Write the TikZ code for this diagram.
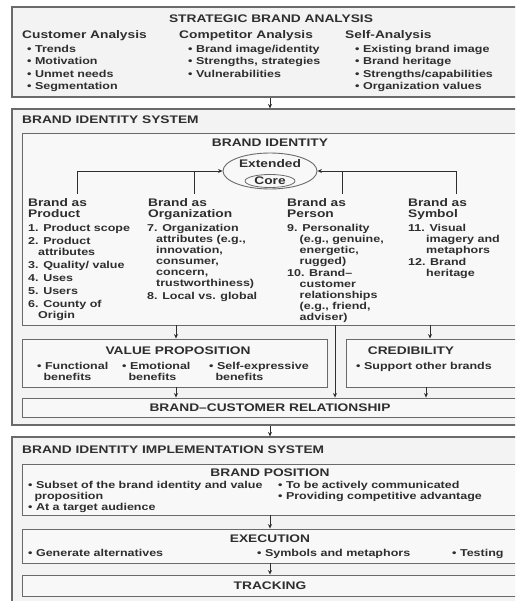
\documentclass[tikz,border=0pt]{standalone}
\usepackage{fontspec}
\setmainfont[FakeStretch=1.25]{Liberation Sans}
\usetikzlibrary{arrows.meta,shapes.geometric,fit}
\definecolor{ink}{HTML}{2E2E2E}
\definecolor{rule}{HTML}{6A6A6A}
\definecolor{panel}{HTML}{F3F3F3}
\definecolor{panelin}{HTML}{F8F8F8}

\tikzset{
  hd/.style={font=\fontsize{11}{11.5}\selectfont\bfseries, text=ink, inner sep=0pt, align=left},
  bd/.style={font=\fontsize{10}{#1}\selectfont\bfseries, text=ink, inner sep=0pt, align=left},
  bd/.default=11,
  outerbox/.style={draw=rule, line width=1.1pt, fill=panel, inner sep=0pt},
  innerbox/.style={draw=rule, line width=0.9pt, fill=panelin, inner sep=0pt},
  flow/.style={draw=ink, line width=0.8pt, -{Stealth[length=4.5pt,width=4pt]}},
  link/.style={draw=ink, line width=0.8pt},
}

\begin{document}
\begin{tikzpicture}[x=1pt,y=-1pt]
\useasboundingbox (0,0) rectangle (515,601);
\clip (0,0) rectangle (515,601);

% ---------- Strategic brand analysis ----------
\node[outerbox, fit={(12,7) (520,97)}] (sba) {};
\node[hd] (sbaT) at (271,18.5) {STRATEGIC BRAND ANALYSIS};
\node[hd, anchor=base west] (custH) at (22,39) {Customer Analysis};
\node[hd, anchor=base west] (compH) at (179,39) {Competitor Analysis};
\node[hd, anchor=base west] (selfH) at (345,39) {Self-Analysis};
\node[bd=12.5, anchor=north west] (custL) at (27,44.9)
  {• Trends\\• Motivation\\• Unmet needs\\• Segmentation};
\node[bd=12.5, anchor=north west] (compL) at (188,44.9)
  {• Brand image/identity\\• Strengths, strategies\\• Vulnerabilities};
\node[bd=12.5, anchor=north west] (selfL) at (355,44.9)
  {• Existing brand image\\• Brand heritage\\• Strengths/capabilities\\• Organization values};

% ---------- Brand identity system ----------
\node[outerbox, fit={(12,109) (520,425)}] (bis) {};
\node[hd, anchor=west] (bisT) at (22,120) {BRAND IDENTITY SYSTEM};

\node[innerbox, fit={(22,133) (520,325)}] (bi) {};
\node[hd] (biT) at (270,143) {BRAND IDENTITY};
\node[draw=rule, line width=0.9pt, ellipse, minimum width=94pt, minimum height=36pt, inner sep=0pt] (ext) at (270,171) {};
\node[hd] (extT) at (270,164) {Extended};
\node[hd, draw=rule, line width=0.8pt, ellipse, minimum width=50pt, minimum height=13pt, inner sep=0pt] (core) at (270,181) {Core};

\node[hd, anchor=north west] (prodH) at (28,198) {Brand as\\Product};
\node[hd, anchor=north west] (orgH) at (148,198) {Brand as\\Organization};
\node[hd, anchor=north west] (persH) at (287,198) {Brand as\\Person};
\node[hd, anchor=north west] (symH) at (408,198) {Brand as\\Symbol};

\coordinate (prodC) at (77,194);
\coordinate (orgC) at (194,194);
\coordinate (persC) at (342,194);
\coordinate (symC) at (456,194);
\draw[flow] (prodC) |- (ext.west);
\draw[link] (orgC) -- (orgC |- ext.west);
\draw[flow] (symC) |- (ext.east);
\draw[link] (persC) -- (persC |- ext.east);

\node[bd, anchor=north west] (prodL) at (28,224.4)
  {1. Product scope\\[2pt]2. Product\\\hspace*{10pt}attributes\\[2pt]3. Quality/ value\\[2pt]4. Uses\\[2pt]5. Users\\[2pt]6. County of\\\hspace*{10pt}Origin};
\node[bd, anchor=north west] (orgL) at (147,224.4)
  {7. Organization\\\hspace*{9pt}attributes (e.g.,\\\hspace*{9pt}innovation,\\\hspace*{9pt}consumer,\\\hspace*{9pt}concern,\\\hspace*{9pt}trustworthiness)\\[2pt]8. Local vs. global};
\node[bd, anchor=north west] (persL) at (287,224.4)
  {9. Personality\\\hspace*{12.5pt}(e.g., genuine,\\\hspace*{12.5pt}energetic,\\\hspace*{12.5pt}rugged)\\[0.5pt]10. Brand–\\\hspace*{12.5pt}customer\\\hspace*{12.5pt}relationships\\\hspace*{12.5pt}(e.g., friend,\\\hspace*{12.5pt}adviser)};
\node[bd, anchor=north west] (symL) at (408,224.4)
  {11. Visual\\\hspace*{18pt}imagery and\\\hspace*{18pt}metaphors\\[0.5pt]12. Brand\\\hspace*{18pt}heritage};

% value proposition and credibility
\node[innerbox, fit={(22,339) (327,387)}] (vp) {};
\node[hd] (vpT) at (178,351) {VALUE PROPOSITION};
\node[bd, anchor=north west] (vpA) at (37,362.4) {• Functional\\\hspace*{6.3pt}benefits};
\node[bd, anchor=north west] (vpB) at (122,362.4) {• Emotional\\\hspace*{6.3pt}benefits};
\node[bd, anchor=north west] (vpC) at (209,362.4) {• Self-expressive\\\hspace*{6.3pt}benefits};

\node[innerbox, fit={(346,339) (520,387)}] (cr) {};
\node[hd] (crT) at (411,351) {CREDIBILITY};
\node[bd, anchor=north west] (crA) at (356,362.4) {• Support other brands};

\node[innerbox, fit={(22,398) (520,417)}] (bcr) {};
\node[hd] (bcrT) at (270,408) {BRAND–CUSTOMER RELATIONSHIP};

\coordinate (xa) at (176,0);
\coordinate (xb) at (335,0);
\coordinate (xc) at (430,0);
\coordinate (xd) at (426,0);
\draw[flow] (bi.south -| xa) -- (vp.north -| xa);
\draw[flow] (bi.south -| xc) -- (cr.north -| xc);
\draw[flow] (bi.south -| xb) -- (bcr.north -| xb);
\draw[flow] (vp.south -| xa) -- (bcr.north -| xa);
\draw[flow] (cr.south -| xd) -- (bcr.north -| xd);

% ---------- Implementation system ----------
\coordinate (xm) at (270,0);
\draw[flow] (sba.south -| xm) -- (bis.north -| xm);

\node[outerbox, fit={(12,437) (520,612)}] (biis) {};
\draw[flow] (bis.south -| xm) -- (biis.north -| xm);
\node[hd, anchor=west] (biisT) at (22,450) {BRAND IDENTITY IMPLEMENTATION SYSTEM};

\node[innerbox, fit={(22,464) (520,515)}] (bp) {};
\node[hd] (bpT) at (270,473) {BRAND POSITION};
\node[bd, anchor=north west] (bpL) at (28,481.4)
  {• Subset of the brand identity and value\\\hspace*{6.3pt}proposition\\• At a target audience};
\node[bd, anchor=north west] (bpR) at (278,481.4)
  {• To be actively communicated\\• Providing competitive advantage};

\node[innerbox, fit={(22,529) (520,563)}] (ex) {};
\node[hd] (exT) at (270,539) {EXECUTION};
\node[bd, anchor=north west] (exA) at (28,549.4) {• Generate alternatives};
\node[bd, anchor=north west] (exB) at (257,549.4) {• Symbols and metaphors};
\node[bd, anchor=north west] (exC) at (452,549.4) {• Testing};

\node[innerbox, fit={(22,575) (520,596)}] (tr) {};
\node[hd] (trT) at (270,586) {TRACKING};

\draw[flow] (bp.south -| xm) -- (ex.north -| xm);
\draw[flow] (ex.south -| xm) -- (tr.north -| xm);
\end{tikzpicture}
\end{document}
